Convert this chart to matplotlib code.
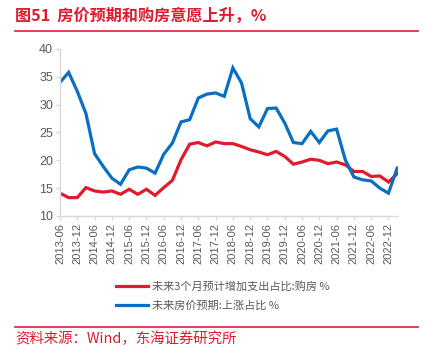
import matplotlib
matplotlib.use("Agg")
import matplotlib.pyplot as plt
from matplotlib.lines import Line2D
import numpy as np

plt.rcParams['font.family'] = ['Noto Sans CJK SC', 'DejaVu Sans']

RED = "#E01B2E"
BLUE = "#0A6FC2"
GRAY = "#595959"

# quarterly, 2013-06 .. 2023-03
buy_house = [14.1, 13.3, 13.3, 15.1, 14.5, 14.3, 14.5, 13.9, 14.8, 13.9,
             14.8, 13.7, 15.1, 16.4, 20.1, 22.9, 23.2, 22.6, 23.3, 23.0,
             23.0, 22.5, 21.9, 21.5, 21.0, 21.6, 20.7, 19.3, 19.7, 20.2,
             20.0, 19.4, 19.7, 19.2, 18.0, 18.0, 17.1, 17.2, 16.1, 17.6]
price_up = [34.0, 35.8, 32.4, 28.4, 21.2, 18.9, 16.8, 15.7, 18.3, 18.8,
            18.6, 17.7, 21.1, 23.1, 26.9, 27.3, 31.2, 31.9, 32.1, 31.5,
            36.6, 33.9, 27.5, 26.0, 29.3, 29.4, 26.7, 23.2, 23.0, 25.2,
            23.2, 25.3, 25.6, 20.1, 17.0, 16.5, 16.3, 15.0, 14.1, 18.6]
tick_labels = [f"{y}-{m}" for y in range(2013, 2023) for m in ("06", "12")]
legend_labels = ["未来3个月预计增加支出占比:购房 %", "未来房价预期:上涨占比 %"]

fig = plt.figure(figsize=(4.28, 3.5), dpi=100)
ax = fig.add_axes([60/428, 1-216/350, 338/428, 167/350])

x = np.arange(len(buy_house))
ax.plot(x, buy_house, color=RED, lw=2.3, label=legend_labels[0], solid_joinstyle="miter")
ax.plot(x, price_up, color=BLUE, lw=2.3, label=legend_labels[1], solid_joinstyle="miter")

ax.set_xlim(0, 39.1)
ax.set_ylim(10, 40)
ax.set_yticks(range(10, 41, 5))
ax.set_xticks(np.arange(0, 40, 2))
ax.set_xticklabels(tick_labels, rotation=90, fontsize=8, color=GRAY, family="Liberation Sans")
for t in ax.get_yticklabels():
    t.set_fontsize(9)
    t.set_color(GRAY)
    t.set_family("Liberation Sans")

for s in ("top", "right"):
    ax.spines[s].set_visible(False)
for s in ("left", "bottom"):
    ax.spines[s].set_color("#D9D9D9")
    ax.spines[s].set_linewidth(1)
ax.tick_params(axis="both", color="#D9D9D9", length=3, width=1, pad=2)

fig.legend(loc="upper left", bbox_to_anchor=(106/428, 1-271/350), frameon=False,
           fontsize=8, handlelength=2.9, handletextpad=0.3, labelspacing=0.75,
           labelcolor=GRAY)

fig.text(15/428, 1-16/350, "图51  房价预期和购房意愿上升，%", color=RED, fontsize=11.6,
         fontweight="bold", va="center", ha="left")
fig.add_artist(Line2D([15/428, 418/428], [1-31/350]*2, color=RED, lw=1.2))
fig.add_artist(Line2D([15/428, 418/428], [1-327/350]*2, color=RED, lw=1.2))
fig.text(15/428, 1-339/350, "资料来源：Wind，东海证券研究所", color=RED, fontsize=10.4,
         va="center", ha="left")

plt.savefig("out.png", dpi=100)
